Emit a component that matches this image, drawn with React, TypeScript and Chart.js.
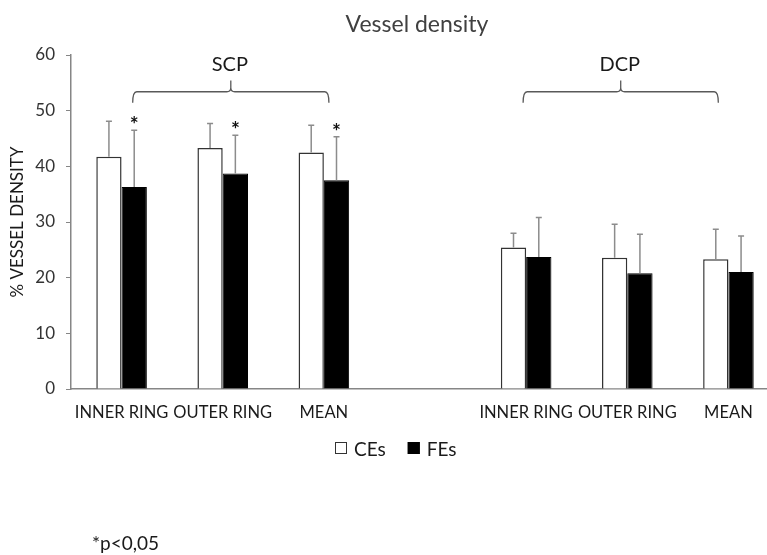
import React, { useEffect, useRef } from "react";
import { Chart, registerables } from "chart.js";

Chart.register(...registerables);

// ---- data ----
const categories = ["INNER RING", "OUTER RING", "MEAN", "", "INNER RING", "OUTER RING", "MEAN"];
const ceValues = [41.7, 43.3, 42.5, null, 25.4, 23.6, 23.3];
const ceErrors = [6.4, 4.4, 4.9, null, 2.6, 6.0, 5.4];
const feValues = [36.3, 38.7, 37.5, null, 23.7, 20.8, 21.0];
const feErrors = [10.2, 6.9, 7.8, null, 7.1, 7.0, 6.5];
const significant = [true, true, true, false, false, false, false];
const groupLabels = ["SCP", "DCP"];
const seriesLabels = ["CEs", "FEs"];
const chartTitle = "Vessel density";
const yTitle = "% VESSEL DENSITY";
const footnote = "*p<0,05";

const FONT = "Lato, 'Open Sans', sans-serif";

const overlay = {
  id: "overlay",
  afterDatasetsDraw(chart: any) {
    const ctx = chart.ctx;
    const y = chart.scales.y;
    const errs = [ceErrors, feErrors];
    errs.forEach((arr, di) => {
      const meta = chart.getDatasetMeta(di);
      const vals = chart.data.datasets[di].data;
      meta.data.forEach((bar: any, i: number) => {
        const v = vals[i];
        const e = arr[i];
        if (v == null || e == null) return;
        const top = y.getPixelForValue(v + e);
        ctx.save();
        ctx.strokeStyle = "#8c8c8c";
        ctx.lineWidth = 1.5;
        ctx.beginPath();
        ctx.moveTo(bar.x, bar.y);
        ctx.lineTo(bar.x, top);
        ctx.moveTo(bar.x - 3, top);
        ctx.lineTo(bar.x + 3, top);
        ctx.stroke();
        if (di === 1 && significant[i]) {
          ctx.fillStyle = "#111";
          ctx.font = `bold 21px ${FONT}`;
          ctx.textAlign = "center";
          ctx.textBaseline = "alphabetic";
          ctx.fillText("*", bar.x, top + 2);
        }
        ctx.restore();
      });
    });
  },
  afterDraw(chart: any) {
    const ctx = chart.ctx;
    const x = chart.scales.x;
    const y = chart.scales.y;
    ctx.save();
    // title
    ctx.fillStyle = "#404040";
    ctx.font = `23px ${FONT}`;
    ctx.textAlign = "center";
    ctx.textBaseline = "alphabetic";
    ctx.fillText(chartTitle, 417, 32);

    // braces
    const spans = [
      [0.11, 2.05],
      [3.97, 5.9],
    ];
    spans.forEach((s, gi) => {
      const x1 = x.getPixelForValue(s[0]);
      const x2 = x.getPixelForValue(s[1]);
      const xc = (x1 + x2) / 2;
      const yH = y.getPixelForValue(53.4);
      const yE = y.getPixelForValue(51.4);
      const yT = y.getPixelForValue(55.4);
      const r = 4;
      ctx.strokeStyle = "#595959";
      ctx.lineWidth = 1.3;
      ctx.beginPath();
      ctx.moveTo(x1, yE);
      ctx.quadraticCurveTo(x1, yH, x1 + r, yH);
      ctx.lineTo(xc - r, yH);
      ctx.quadraticCurveTo(xc, yH, xc, yH - r);
      ctx.lineTo(xc, yT);
      ctx.moveTo(xc, yH - r);
      ctx.quadraticCurveTo(xc, yH, xc + r, yH);
      ctx.lineTo(x2 - r, yH);
      ctx.quadraticCurveTo(x2, yH, x2, yE);
      ctx.stroke();
      ctx.fillStyle = "#1a1a1a";
      ctx.font = `20px ${FONT}`;
      ctx.textAlign = "center";
      ctx.textBaseline = "middle";
      ctx.fillText(groupLabels[gi], xc - 1, y.getPixelForValue(58.3));
    });

    // legend
    ctx.font = `19px ${FONT}`;
    ctx.textAlign = "left";
    ctx.textBaseline = "alphabetic";
    let lx = 335;
    const ds = chart.data.datasets;
    ds.forEach((d: any, i: number) => {
      ctx.fillStyle = d.backgroundColor;
      ctx.fillRect(lx, 442, 12, 12);
      ctx.strokeStyle = d.borderColor;
      ctx.lineWidth = 1;
      ctx.strokeRect(lx + 0.5, 442.5, 11, 11);
      ctx.fillStyle = "#1a1a1a";
      ctx.fillText(seriesLabels[i], lx + 19, 456);
      lx += 19 + ctx.measureText(seriesLabels[i]).width + 22;
    });

    // footnote
    ctx.fillStyle = "#1a1a1a";
    ctx.font = `19px ${FONT}`;
    ctx.fillText(footnote, 92, 550);
    ctx.restore();
  },
};

export default function App() {
  const ref = useRef<HTMLCanvasElement | null>(null);
  useEffect(() => {
    if (!ref.current) return;
    const chart = new Chart(ref.current, {
      type: "bar",
      data: {
        labels: categories,
        datasets: [
          {
            label: seriesLabels[0],
            data: ceValues,
            backgroundColor: "#ffffff",
            borderColor: "#333333",
            borderWidth: 1.5,
          },
          {
            label: seriesLabels[1],
            data: feValues,
            backgroundColor: "#000000",
            borderColor: "#000000",
            borderWidth: 1,
          },
        ],
      },
      options: {
        responsive: false,
        devicePixelRatio: 1,
        animation: false,
        datasets: { bar: { categoryPercentage: 0.5, barPercentage: 1.0 } },
        layout: { padding: { top: 55, bottom: 126, left: 0, right: 11 } },
        plugins: {
          legend: { display: false },
          title: { display: false },
          tooltip: { enabled: false },
        },
        scales: {
          x: {
            grid: { display: false, drawTicks: false },
            border: { display: true, color: "#868686", width: 1.5 },
            ticks: {
              autoSkip: false,
              maxRotation: 0,
              padding: 14,
              color: "#1a1a1a",
              font: { family: FONT, size: 16.5 },
            },
            afterFit: (s: any) => {
              s.height = 40;
            },
          },
          y: {
            min: 0,
            max: 60,
            ticks: {
              stepSize: 10,
              padding: 11,
              color: "#333333",
              font: { family: FONT, size: 17 },
            },
            grid: { drawOnChartArea: false, drawTicks: true, tickLength: 5, color: "#868686" },
            border: { display: true, color: "#868686", width: 1.5 },
            title: {
              display: true,
              text: yTitle,
              color: "#1a1a1a",
              font: { family: FONT, size: 17 },
              padding: { top: 7, bottom: 0 },
            },
            afterFit: (s: any) => {
              s.width = 71;
            },
          },
        },
      },
      plugins: [overlay],
    });
    return () => chart.destroy();
  }, []);

  return (
    <div
      style={{
        position: "fixed",
        left: 0,
        top: 0,
        width: 767,
        height: 555,
        overflow: "hidden",
        background: "#ffffff",
      }}
    >
      <canvas ref={ref} width={790} height={555} style={{ display: "block" }} />
    </div>
  );
}
